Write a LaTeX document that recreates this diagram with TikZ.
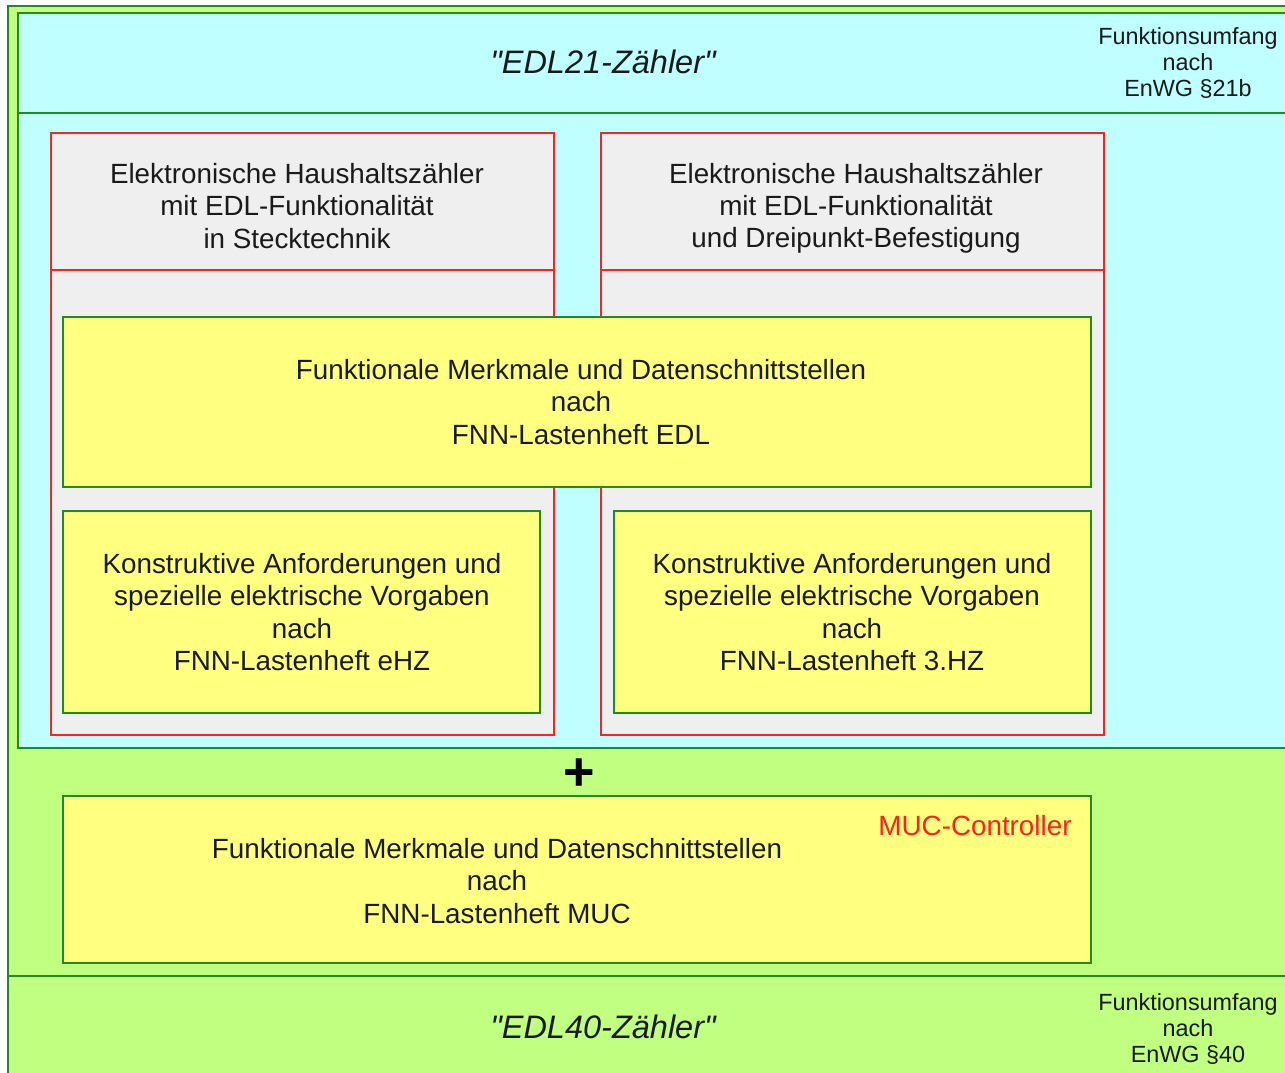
\documentclass[tikz,border=0pt]{standalone}
\usepackage{fontspec}
\setmainfont{Liberation Sans}
\definecolor{lgreen}{HTML}{C0FF80}
\definecolor{lcyan}{HTML}{C0FFFF}
\definecolor{lyellow}{HTML}{FFFF80}
\definecolor{lgray}{HTML}{EFEFEF}
\definecolor{dgreen}{HTML}{1E8C1E}
\definecolor{rred}{HTML}{FF2020}
\definecolor{txt}{HTML}{1A1A1A}
\newcommand{\sq}{\XeTeXglyph\XeTeXcharglyph"0022\relax}
\tikzset{
  px/.style={x=1pt,y=-1pt},
  greenbox/.style={draw=dgreen,line width=1.6pt},
  redbox/.style={draw=rred,fill=lgray,line width=1.6pt},
  yellowbox/.style={draw=dgreen,fill=lyellow,line width=1.4pt},
  maintext/.style={align=center,text=txt,font=\fontsize{27.8}{32.3}\selectfont,inner sep=0pt},
  smalltext/.style={align=center,text=txt,font=\fontsize{23.4}{26}\selectfont,inner sep=0pt},
  titletext/.style={text=txt,font=\fontsize{32.5}{36}\selectfont\itshape,inner sep=0pt}
}
\begin{document}
\begin{tikzpicture}[px]
\useasboundingbox (0,0) rectangle (1285,1072);
\clip (0,0) rectangle (1285,1072);
\fill[white] (0,0) rectangle (1285,1072);
% outer green (EDL40)
\draw[greenbox,fill=lgreen] (8,6) rectangle (1300,1090);
% cyan (EDL21)
\draw[greenbox,fill=lcyan] (18,13) rectangle (1300,748);
\draw[greenbox] (18,113) -- (1300,113);
\draw[greenbox] (8,976) -- (1300,976);
% red boxes
\draw[redbox] (51,133) rectangle (554,735);
\draw[draw=rred,line width=1.2pt] (51,270) -- (554,270);
\draw[redbox] (601,133) rectangle (1104,735);
\draw[draw=rred,line width=1.2pt] (601,270) -- (1104,270);
% yellow boxes
\draw[yellowbox] (63,317) rectangle (1091,487);
\draw[yellowbox] (63,511) rectangle (540,713);
\draw[yellowbox] (614,511) rectangle (1091,713);
\draw[yellowbox] (63,796) rectangle (1091,963);
% texts
\node[titletext] (t21) at (603,62) {\sq EDL21-Zähler\sq};
\node[smalltext] (f21) at (1188,63) {Funktionsumfang\\nach\\EnWG §21b};
\node[maintext] (hl) at (297,206) {Elektronische Haushaltszähler\\mit EDL-Funktionalität\\in Stecktechnik};
\node[maintext] (hr) at (856,208.5) {Elektronische Haushaltszähler\\mit EDL-Funktionalität\\und Dreipunkt-Befestigung};
\node[maintext] (edl) at (581,402) {Funktionale Merkmale und Datenschnittstellen\\nach\\FNN-Lastenheft EDL};
\node[maintext] (ehz) at (302,612) {Konstruktive Anforderungen und\\spezielle elektrische Vorgaben\\nach\\FNN-Lastenheft eHZ};
\node[maintext] (hz3) at (852,612) {Konstruktive Anforderungen und\\spezielle elektrische Vorgaben\\nach\\FNN-Lastenheft 3.HZ};
\node[text=black,font=\fontsize{54}{54}\selectfont\bfseries,inner sep=0pt] (plus) at (579,775) {+};
\node[maintext] (muc) at (497,881) {Funktionale Merkmale und Datenschnittstellen\\nach\\FNN-Lastenheft MUC};
\node[maintext,text=rred] (mucc) at (975,826) {MUC-Controller};
\node[titletext] (t40) at (603,1027) {\sq EDL40-Zähler\sq};
\node[smalltext] (f40) at (1188,1029) {Funktionsumfang\\nach\\EnWG §40};
\end{tikzpicture}
\end{document}
